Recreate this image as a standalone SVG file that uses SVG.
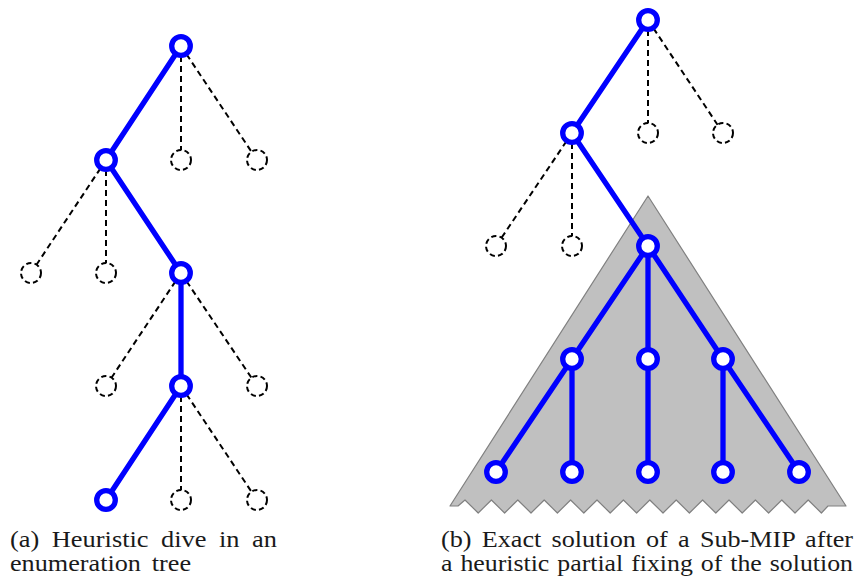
<svg xmlns="http://www.w3.org/2000/svg" width="858" height="578" viewBox="0 0 858 578">
<style>
.be{stroke:#0000ff;stroke-width:5.3;fill:none;stroke-linecap:round}
.de{stroke:#000;stroke-width:2;stroke-dasharray:6,4;fill:none}
.bn{stroke:#0000ff;stroke-width:5.3;fill:#fff}
.dn{stroke:#000;stroke-width:2;stroke-dasharray:5.2,3.2;fill:#fff}
.cap{font-family:"Liberation Serif","DejaVu Serif",serif;font-size:24px;fill:#1a1a1a}
</style>
<rect width="858" height="578" fill="#fff"/>
<polygon id="submip" points="648,196 846,506 828,506 821.4,513 808.2,500 795,513 781.8,500 768.6,513 755.4,500 742.2,513 729,500 715.8,513 702.6,500 689.4,513 676.2,500 663,513 649.8,500 636.6,513 623.4,500 610.2,513 597,500 583.8,513 570.6,500 557.4,513 544.2,500 531,513 517.8,500 504.6,513 491.4,500 478.2,513 465,500 458,506 450,506" fill="#c0c0c0" stroke="#808080" stroke-width="1.2" stroke-linejoin="round"/>
<g id="connectors">
<line class="be" x1="181" y1="46" x2="106" y2="160"/>
<line class="de" x1="181" y1="46" x2="181" y2="160"/>
<line class="de" x1="181" y1="46" x2="257" y2="160"/>
<line class="de" x1="106" y1="160" x2="31" y2="273"/>
<line class="de" x1="106" y1="160" x2="106" y2="273"/>
<line class="be" x1="106" y1="160" x2="181" y2="273"/>
<line class="de" x1="181" y1="273" x2="106" y2="386"/>
<line class="be" x1="181" y1="273" x2="181" y2="386"/>
<line class="de" x1="181" y1="273" x2="257" y2="386"/>
<line class="be" x1="181" y1="386" x2="106" y2="500"/>
<line class="de" x1="181" y1="386" x2="181" y2="500"/>
<line class="de" x1="181" y1="386" x2="257" y2="500"/>
<line class="be" x1="648" y1="20" x2="572" y2="133"/>
<line class="de" x1="648" y1="20" x2="648" y2="133"/>
<line class="de" x1="648" y1="20" x2="723" y2="133"/>
<line class="de" x1="572" y1="133" x2="496" y2="246"/>
<line class="de" x1="572" y1="133" x2="572" y2="246"/>
<line class="be" x1="572" y1="133" x2="648" y2="246"/>
<line class="be" x1="648" y1="246" x2="572" y2="359"/>
<line class="be" x1="648" y1="246" x2="648" y2="359"/>
<line class="be" x1="648" y1="246" x2="723" y2="359"/>
<line class="be" x1="572" y1="359" x2="496" y2="472"/>
<line class="be" x1="572" y1="359" x2="572" y2="472"/>
<line class="be" x1="648" y1="359" x2="648" y2="472"/>
<line class="be" x1="723" y1="359" x2="723" y2="472"/>
<line class="be" x1="723" y1="359" x2="799" y2="472"/>
</g>
<g id="a_root"><circle class="bn" cx="181" cy="46" r="9.3"/></g>
<g id="a_1a"><circle class="bn" cx="106" cy="160" r="9.3"/></g>
<g id="a_1b"><circle class="dn" cx="181" cy="160" r="10"/></g>
<g id="a_1c"><circle class="dn" cx="257" cy="160" r="10"/></g>
<g id="a_2a"><circle class="dn" cx="31" cy="273" r="10"/></g>
<g id="a_2b"><circle class="dn" cx="106" cy="273" r="10"/></g>
<g id="a_2c"><circle class="bn" cx="181" cy="273" r="9.3"/></g>
<g id="a_3a"><circle class="dn" cx="106" cy="386" r="10"/></g>
<g id="a_3b"><circle class="bn" cx="181" cy="386" r="9.3"/></g>
<g id="a_3c"><circle class="dn" cx="257" cy="386" r="10"/></g>
<g id="a_4a"><circle class="bn" cx="106" cy="500" r="9.3"/></g>
<g id="a_4b"><circle class="dn" cx="181" cy="500" r="10"/></g>
<g id="a_4c"><circle class="dn" cx="257" cy="500" r="10"/></g>
<g id="b_root"><circle class="bn" cx="648" cy="20" r="9.3"/></g>
<g id="b_1a"><circle class="bn" cx="572" cy="133" r="9.3"/></g>
<g id="b_1b"><circle class="dn" cx="648" cy="133" r="10"/></g>
<g id="b_1c"><circle class="dn" cx="723" cy="133" r="10"/></g>
<g id="b_2a"><circle class="dn" cx="496" cy="246" r="10"/></g>
<g id="b_2b"><circle class="dn" cx="572" cy="246" r="10"/></g>
<g id="b_2c"><circle class="bn" cx="648" cy="246" r="9.3"/></g>
<g id="b_3a"><circle class="bn" cx="572" cy="359" r="9.3"/></g>
<g id="b_3b"><circle class="bn" cx="648" cy="359" r="9.3"/></g>
<g id="b_3c"><circle class="bn" cx="723" cy="359" r="9.3"/></g>
<g id="b_4a"><circle class="bn" cx="496" cy="472" r="9.3"/></g>
<g id="b_4b"><circle class="bn" cx="572" cy="472" r="9.3"/></g>
<g id="b_4c"><circle class="bn" cx="648" cy="472" r="9.3"/></g>
<g id="b_4d"><circle class="bn" cx="723" cy="472" r="9.3"/></g>
<g id="b_4e"><circle class="bn" cx="799" cy="472" r="9.3"/></g>
<g id="captions">
<text class="cap" x="10" y="547" word-spacing="5.4" textLength="267" lengthAdjust="spacingAndGlyphs">(a) Heuristic dive in an</text>
<text class="cap" x="10" y="571" word-spacing="4" textLength="181" lengthAdjust="spacingAndGlyphs">enumeration tree</text>
<text class="cap" x="441" y="547" word-spacing="3.4" textLength="412" lengthAdjust="spacingAndGlyphs">(b) Exact solution of a Sub-MIP after</text>
<text class="cap" x="441" y="571" word-spacing="1.4" textLength="412" lengthAdjust="spacingAndGlyphs">a heuristic partial fixing of the solution</text>
</g>
</svg>
